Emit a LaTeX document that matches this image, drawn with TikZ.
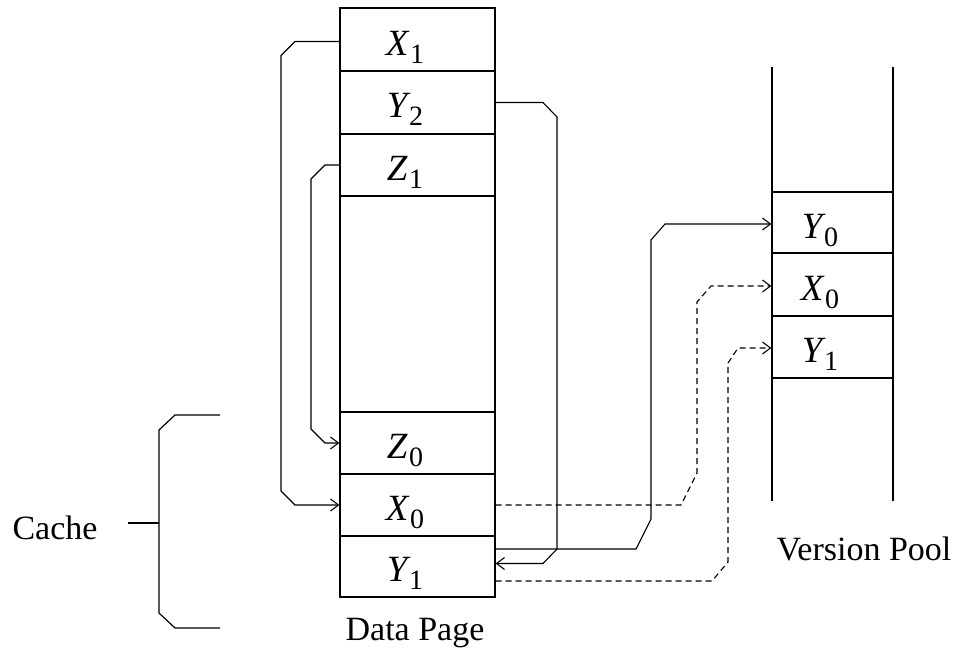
\documentclass[tikz,border=0pt]{standalone}
\usepackage{fontspec}
\setmainfont{Liberation Serif}
\usetikzlibrary{arrows.meta}
\newcommand\lb[2]{{\itshape #1}\hspace{1.5pt}\raisebox{-8pt}{\fontsize{28}{30}\selectfont #2}}
\begin{document}
\begin{tikzpicture}[x=1pt,y=-1pt,
  cellbox/.style={draw, line width=1.2pt, minimum width=155pt, inner sep=0pt},
  vcell/.style={draw, line width=1.2pt, minimum width=121pt, inner sep=0pt},
  lbl/.style={anchor=base, inner sep=0pt, font=\fontsize{37}{40}\selectfont},
  txt/.style={anchor=base, inner sep=0pt, font=\fontsize{34}{40}\selectfont},
  conn/.style={line width=1.1pt, -{Straight Barb[length=8pt,width=12pt,line width=1.1pt]}},
  dconn/.style={conn, dash pattern=on 6pt off 4pt},
  plain/.style={line width=1.2pt}]
\useasboundingbox (0,0) rectangle (956,648);

% Data page cells
\node[cellbox, minimum height=63pt] (x1) at (417.5,39.5) {};
\node[cellbox, minimum height=63pt] (y2) at (417.5,102.5) {};
\node[cellbox, minimum height=62pt] (z1) at (417.5,165) {};
\node[cellbox, minimum height=216pt] (em) at (417.5,304) {};
\node[cellbox, minimum height=62pt] (z0) at (417.5,443) {};
\node[cellbox, minimum height=62pt] (x0) at (417.5,505) {};
\node[cellbox, minimum height=61pt] (y1) at (417.5,566.5) {};

\node[lbl] (lx1) at (405,55) {\lb{X}{1}};
\node[lbl] (ly2) at (405,117) {\lb{Y}{2}};
\node[lbl] (lz1) at (405,180) {\lb{Z}{1}};
\node[lbl] (lz0) at (405,458) {\lb{Z}{0}};
\node[lbl] (lx0) at (405,520) {\lb{X}{0}};
\node[lbl] (ly1) at (405,581.5) {\lb{Y}{1}};

% Version pool
\coordinate (vl1) at (772,67);
\coordinate (vl2) at (772,501);
\coordinate (vr1) at (893,67);
\coordinate (vr2) at (893,501);
\draw[plain] (vl1) -- (vl2);
\draw[plain] (vr1) -- (vr2);
\node[vcell, minimum height=61pt] (vy0) at (832.5,222.5) {};
\node[vcell, minimum height=62pt] (vx0) at (832.5,284.5) {};
\node[vcell, minimum height=62pt] (vy1) at (832.5,347) {};
\node[lbl] (lvy0) at (820,238) {\lb{Y}{0}};
\node[lbl] (lvx0) at (820,300) {\lb{X}{0}};
\node[lbl] (lvy1) at (820,362.5) {\lb{Y}{1}};

% Texts
\node[txt] (cache) at (55,539) {Cache};
\node[txt] (dp) at (415,640) {Data Page};
\node[txt] (vp) at (864,560) {Version Pool};

% Cache bracket
\coordinate (cl) at (128,523);
\coordinate (cb) at (159,523);
\draw[plain] (cl) -- (cb);
\draw[plain] (220,415) -- (175,415) -- (159,430) -- (cb) -- (159,613) -- (175,628) -- (220,628);

% Connectors
\draw[conn] ([yshift=-2pt]x1.west) -- (295,41.5) -- (281,55.5) -- (281,491) -- (295,505) -- (x0.west);
\draw[conn] (z1.west) -- (325,165) -- (311,179) -- (311,429) -- (325,443) -- (z0.west);
\draw[conn] (y2.east) -- (543,102.5) -- (557,117) -- (557,549) -- (543,563.5) -- ([yshift=3pt]y1.east);
\draw[conn] ([yshift=17.5pt]y1.east) -- (636,549) -- (651,519) -- (651,240) -- (665,224) -- ([yshift=-1.5pt]vy0.west);
\draw[dconn] (x0.east) -- (681,505) -- (697,473) -- (697,302) -- (711,286) -- ([yshift=-1.5pt]vx0.west);
\draw[dconn] ([yshift=-14.5pt]y1.east) -- (712,581) -- (728,562) -- (728,363) -- (738,348) -- ([yshift=-1pt]vy1.west);
\end{tikzpicture}
\end{document}
